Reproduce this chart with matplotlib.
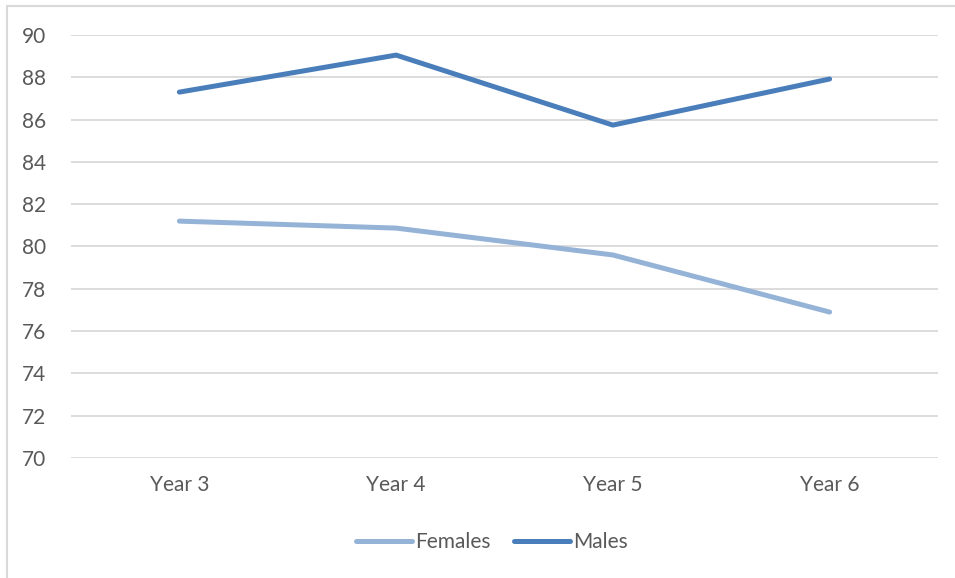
import matplotlib.pyplot as plt
from matplotlib.patches import Rectangle

years = ["Year 3", "Year 4", "Year 5", "Year 6"]
females = [81.2, 80.87, 79.6, 76.9]
males = [87.3, 89.05, 85.74, 87.92]
y_ticks = list(range(70, 91, 2))

plt.rcParams['font.family'] = ['Lato', 'DejaVu Sans']
text_color = "#595959"
grid_color = "#d9d9d9"

W, H = 955, 578
fig = plt.figure(figsize=(W / 100, H / 100), dpi=100)
ax = fig.add_axes([71 / W, 1 - 458 / H, (938 - 71) / W, (458 - 35) / H])

x = range(len(years))
ax.plot(x, females, color="#95b3d7", lw=3.6, solid_capstyle="round", label="Females")
ax.plot(x, males, color="#4a7ebb", lw=3.6, solid_capstyle="round", label="Males")

ax.set_xlim(-0.5, len(years) - 0.5)
ax.set_ylim(70, 90)
ax.set_yticks(y_ticks)
ax.set_xticks(list(x))
ax.set_xticklabels(years)
ax.yaxis.grid(True, color=grid_color, lw=1.3)
ax.set_axisbelow(True)
for s in ax.spines.values():
    s.set_visible(False)
ax.tick_params(length=0, labelsize=15, labelcolor=text_color)
ax.tick_params(axis="y", pad=18)
ax.tick_params(axis="x", pad=12)

fig.legend(loc="center", bbox_to_anchor=(492 / W, 1 - 542 / H), ncol=2, frameon=False,
           fontsize=15, labelcolor=text_color, handlelength=2.7, handletextpad=0.15,
           columnspacing=1.1)

# outer chart frame
fig.patches.append(Rectangle((7 / W, -0.1), 1.1, 1 - 6 / H + 0.1, transform=fig.transFigure,
                             fill=False, edgecolor=grid_color, lw=1.5))

fig.savefig("out.png", dpi=100)
